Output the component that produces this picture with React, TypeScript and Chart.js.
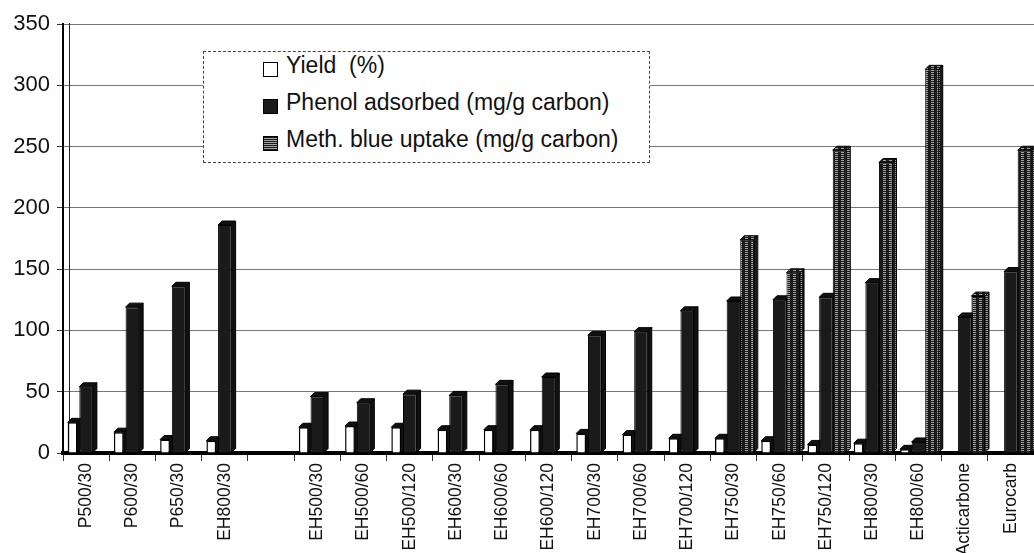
import React, { useEffect, useRef } from 'react';
import { Chart, registerables } from 'chart.js';

Chart.register(...registerables);

const categories = [
  'P500/30', 'P600/30', 'P650/30', 'EH800/30', '',
  'EH500/30', 'EH500/60', 'EH500/120', 'EH600/30', 'EH600/60', 'EH600/120',
  'EH700/30', 'EH700/60', 'EH700/120', 'EH750/30', 'EH750/60', 'EH750/120',
  'EH800/30', 'EH800/60', 'Acticarbone', 'Eurocarb',
];
const yieldPct = [25, 17, 11, 10, null, 21, 22, 21, 19, 19, 19, 16, 15, 12, 12, 10, 7, 8, 3, null, null];
const phenolAdsorbed = [54, 119, 136, 186, null, 46, 41, 48, 47, 56, 62, 96, 99, 116, 124, 125, 127, 139, 9, 111, 148];
const methBlueUptake = [null, null, null, null, null, null, null, null, null, null, null, null, null, null, 174, 147, 247, 237, 313, 128, 247];
const seriesNames = ['Yield  (%)', 'Phenol adsorbed (mg/g carbon)', 'Meth. blue uptake (mg/g carbon)'];
const yMin = 0;
const yMax = 350;
const yStep = 50;

const FONT = "'Liberation Sans', Arial, Helvetica, sans-serif";

function makePattern(ctx: CanvasRenderingContext2D) {
  const c = document.createElement('canvas');
  c.width = 6;
  c.height = 2;
  const p = c.getContext('2d')!;
  p.fillStyle = '#1a1a1a';
  p.fillRect(0, 0, 6, 2);
  p.fillStyle = '#a2a2a2';
  p.fillRect(1, 0, 3, 1);
  return ctx.createPattern(c, 'repeat')!;
}

export default function App() {
  const canvasRef = useRef<HTMLCanvasElement | null>(null);

  useEffect(() => {
    const canvas = canvasRef.current!;
    const ctx = canvas.getContext('2d')!;
    const pattern = makePattern(ctx);
    const depthFills: any[] = ['#111', '#111', pattern];

    const depthPlugin = {
      id: 'depth3d',
      beforeDatasetsDraw(chart: any) {
        const c = chart.ctx as CanvasRenderingContext2D;
        const d = 4;
        const area = chart.chartArea;
        // inner edge of the back wall
        c.save();
        c.strokeStyle = '#222';
        c.lineWidth = 1;
        c.beginPath();
        c.moveTo(area.left + 6.5, area.top - 1);
        c.lineTo(area.left + 6.5, area.bottom - 3);
        c.stroke();
        c.restore();
        chart.data.datasets.forEach((ds: any, i: number) => {
          const meta = chart.getDatasetMeta(i);
          meta.data.forEach((bar: any, j: number) => {
            const v = ds.data[j];
            if (v == null) return;
            const { x, y, base, width } = bar.getProps(['x', 'y', 'base', 'width'], true);
            const l = x - width / 2;
            const r = x + width / 2;
            c.save();
            c.fillStyle = depthFills[i];
            c.strokeStyle = '#000';
            c.lineWidth = 1;
            c.beginPath();
            c.moveTo(r, y);
            c.lineTo(r + d, y - d);
            c.lineTo(r + d, base - d);
            c.lineTo(r, base);
            c.closePath();
            c.fill();
            c.stroke();
            c.beginPath();
            c.moveTo(l, y);
            c.lineTo(l + d, y - d);
            c.lineTo(r + d, y - d);
            c.lineTo(r, y);
            c.closePath();
            c.fill();
            c.stroke();
            c.restore();
          });
        });
      },
    };

    const chart = new Chart(canvas, {
      type: 'bar',
      data: {
        labels: categories,
        datasets: [
          {
            label: seriesNames[0],
            data: yieldPct,
            backgroundColor: '#ffffff',
            borderColor: '#000',
            borderWidth: 1.5,
            barPercentage: 0.72,
            categoryPercentage: 0.88,
          },
          {
            label: seriesNames[1],
            data: phenolAdsorbed,
            backgroundColor: '#1a1a1a',
            borderColor: '#000',
            borderWidth: 1,
            barPercentage: 1,
            categoryPercentage: 0.88,
          },
          {
            label: seriesNames[2],
            data: methBlueUptake,
            backgroundColor: pattern,
            borderColor: '#000',
            borderWidth: 1,
            barPercentage: 1,
            categoryPercentage: 0.88,
          },
        ] as any,
      },
      options: {
        animation: false,
        responsive: true,
        maintainAspectRatio: false,
        layout: { padding: { top: 24, left: 0, right: 0, bottom: 0 } },
        plugins: {
          legend: { display: false },
          tooltip: { enabled: false },
        },
        scales: {
          x: {
            grid: {
              drawOnChartArea: false,
              drawTicks: true,
              tickLength: 8,
              color: '#333',
              offset: true,
            },
            border: { display: true, color: '#000', width: 4 },
            ticks: {
              autoSkip: false,
              maxRotation: 90,
              minRotation: 90,
              padding: 2,
              color: '#111',
              font: { family: FONT, size: 17.5 },
            },
            afterFit: (scale: any) => {
              scale.height = 100;
            },
          },
          y: {
            min: yMin,
            max: yMax,
            grid: {
              color: '#777',
              lineWidth: 1,
              drawTicks: true,
              tickLength: 6,
              tickColor: '#333',
            },
            border: { display: true, color: '#000', width: 2 },
            ticks: {
              stepSize: yStep,
              padding: 7,
              color: '#111',
              font: { family: FONT, size: 22 },
            },
            afterFit: (scale: any) => {
              scale.width = 63;
            },
          },
        },
      },
      plugins: [depthPlugin],
    });

    return () => {
      chart.destroy();
    };
  }, []);

  const swatch = (kind: number): React.CSSProperties => {
    const base: React.CSSProperties = {
      display: 'inline-block',
      width: 15,
      height: 15,
      marginRight: 8,
      verticalAlign: '-4px',
      border: '1px solid #000',
      boxSizing: 'border-box',
    };
    if (kind === 0) return { ...base, background: '#fff' };
    if (kind === 1) return { ...base, background: '#1a1a1a' };
    return {
      ...base,
      background:
        'repeating-linear-gradient(0deg, #1a1a1a 0px, #1a1a1a 1px, #a2a2a2 1px, #a2a2a2 2px)',
    };
  };

  const rowTops = [2, 39, 76];

  return (
    <div
      style={{
        position: 'fixed',
        left: 0,
        top: 0,
        width: 1034,
        height: 553,
        background: '#fff',
        overflow: 'hidden',
      }}
    >
      <canvas ref={canvasRef} />
      <div
        style={{
          position: 'absolute',
          left: 203,
          top: 51,
          width: 447,
          height: 112,
          boxSizing: 'border-box',
          border: '1px dashed #444',
          background: '#fff',
          fontFamily: FONT,
          fontSize: 23,
          lineHeight: '23px',
          color: '#111',
        }}
      >
        {seriesNames.map((name, i) => (
          <div
            key={name}
            style={{ position: 'absolute', left: 59, top: rowTops[i], whiteSpace: 'pre' }}
          >
            <span style={swatch(i)} />
            {name}
          </div>
        ))}
      </div>
    </div>
  );
}
